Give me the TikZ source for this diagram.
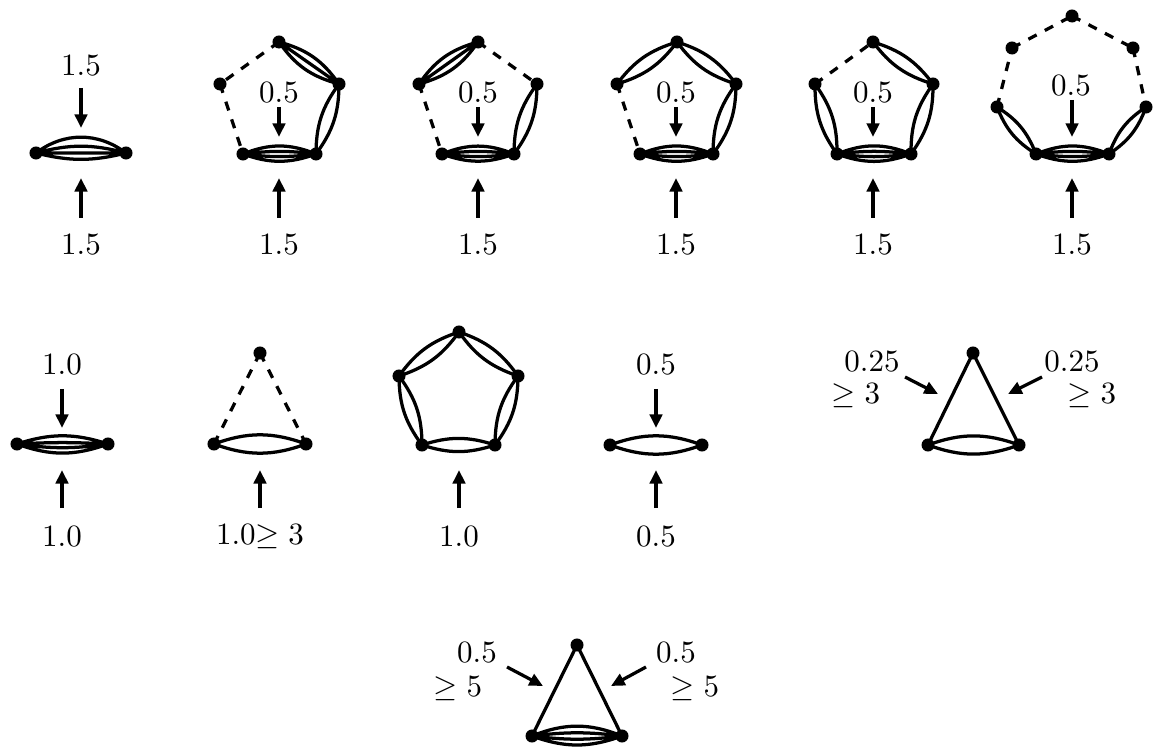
\documentclass[tikz,border=0pt]{standalone}
\usetikzlibrary{arrows.meta}
\newcommand{\mulII}[2]{\draw[edge] (#1.center) to[bend left=18] (#2.center) (#1.center) to[bend right=18] (#2.center);}
\newcommand{\mulIII}[2]{\draw[edge] (#1.center) to[bend left=20] (#2.center) (#1.center) -- (#2.center) (#1.center) to[bend right=20] (#2.center);}
\newcommand{\mulIV}[2]{\draw[edge] (#1.center) to[bend left=22] (#2.center) (#1.center) to[bend left=7] (#2.center) (#1.center) to[bend right=7] (#2.center) (#1.center) to[bend right=20] (#2.center);}
\newcommand{\dsh}[2]{\draw[edge,dashed] (#1.center) -- (#2.center);}
\newcommand{\sgl}[2]{\draw[edge] (#1.center) -- (#2.center);}
\begin{document}
\begin{tikzpicture}[x=0.3226pt,y=-0.3226pt,
  vtx/.style={circle,fill=black,inner sep=0pt,minimum size=4.2pt},
  edge/.style={line width=1.05pt},
  arr/.style={line width=1.05pt,-{Triangle[length=4.4pt,width=4pt]}},
  lbl/.style={inner sep=0pt}]
\useasboundingbox (0,0) rectangle (1155,747);
% ---------- panel 1
\node[vtx] (a1) at (36,153) {};
\node[vtx] (a2) at (126,153) {};
\draw[edge] (a1.center) to[bend left=37] (a2.center) (a1.center) to[bend left=15] (a2.center) (a1.center) -- (a2.center) (a1.center) to[bend right=14] (a2.center);
\node[lbl] (a1t) at (81,66) {$1.5$};
\node[lbl] (a1b) at (81,245) {$1.5$};
\coordinate (a1s) at (81,88); \coordinate (a1e) at (81,128);
\coordinate (a1s2) at (81,218); \coordinate (a1e2) at (81,178);
\draw[arr] (a1s) -- (a1e); \draw[arr] (a1s2) -- (a1e2);
% ---------- panel 2
\node[vtx] (b1) at (279,42) {};
\node[vtx] (b2) at (339,84) {};
\node[vtx] (b3) at (316,154) {};
\node[vtx] (b4) at (243,154) {};
\node[vtx] (b5) at (220,84) {};
\dsh{b1}{b5} \dsh{b5}{b4} \mulIII{b1}{b2} \mulII{b2}{b3} \mulIV{b4}{b3}
\node[lbl] (b0t) at (279,93) {$0.5$};
\coordinate (b0s) at (279,107); \coordinate (b0e) at (279,137);
\draw[arr] (b0s) -- (b0e);
\node[lbl] (b0b) at (279,245) {$1.5$};
\coordinate (b0s2) at (279,218); \coordinate (b0e2) at (279,178);
\draw[arr] (b0s2) -- (b0e2);
% ---------- panel 3
\node[vtx] (c1) at (478,42) {};
\node[vtx] (c2) at (537,84) {};
\node[vtx] (c3) at (514,154) {};
\node[vtx] (c4) at (442,154) {};
\node[vtx] (c5) at (419,84) {};
\mulIII{c5}{c1} \dsh{c1}{c2} \dsh{c5}{c4} \mulII{c2}{c3} \mulIV{c4}{c3}
\node[lbl] (c0t) at (478,93) {$0.5$};
\coordinate (c0s) at (478,107); \coordinate (c0e) at (478,137);
\draw[arr] (c0s) -- (c0e);
\node[lbl] (c0b) at (478,245) {$1.5$};
\coordinate (c0s2) at (478,218); \coordinate (c0e2) at (478,178);
\draw[arr] (c0s2) -- (c0e2);
% ---------- panel 4
\node[vtx] (d1) at (677,42) {};
\node[vtx] (d2) at (736,84) {};
\node[vtx] (d3) at (713,154) {};
\node[vtx] (d4) at (640,154) {};
\node[vtx] (d5) at (617,84) {};
\mulII{d5}{d1} \mulII{d1}{d2} \dsh{d5}{d4} \mulII{d2}{d3} \mulIV{d4}{d3}
\node[lbl] (d0t) at (676,93) {$0.5$};
\coordinate (d0s) at (676,107); \coordinate (d0e) at (676,137);
\draw[arr] (d0s) -- (d0e);
\node[lbl] (d0b) at (676,245) {$1.5$};
\coordinate (d0s2) at (676,218); \coordinate (d0e2) at (676,178);
\draw[arr] (d0s2) -- (d0e2);
% ---------- panel 5
\node[vtx] (e1) at (873,42) {};
\node[vtx] (e2) at (933,84) {};
\node[vtx] (e3) at (911,154) {};
\node[vtx] (e4) at (837,154) {};
\node[vtx] (e5) at (815,84) {};
\dsh{e5}{e1} \mulII{e1}{e2} \mulII{e5}{e4} \mulII{e2}{e3} \mulIV{e4}{e3}
\node[lbl] (e0t) at (873,93) {$0.5$};
\coordinate (e0s) at (873,107); \coordinate (e0e) at (873,137);
\draw[arr] (e0s) -- (e0e);
\node[lbl] (e0b) at (873,245) {$1.5$};
\coordinate (e0s2) at (873,218); \coordinate (e0e2) at (873,178);
\draw[arr] (e0s2) -- (e0e2);
% ---------- panel 6 (heptagon)
\node[vtx] (f1) at (1072,16) {};
\node[vtx] (f2) at (1133,48) {};
\node[vtx] (f3) at (1146,107) {};
\node[vtx] (f4) at (1109,154) {};
\node[vtx] (f5) at (1036,154) {};
\node[vtx] (f6) at (997,107) {};
\node[vtx] (f7) at (1012,48) {};
\dsh{f7}{f1} \dsh{f1}{f2} \dsh{f2}{f3} \dsh{f6}{f7}
\mulII{f3}{f4} \mulII{f6}{f5} \mulIV{f5}{f4}
\node[lbl] (f0t) at (1071,86) {$0.5$};
\coordinate (f0s) at (1072,100); \coordinate (f0e) at (1072,137);
\draw[arr] (f0s) -- (f0e);
\node[lbl] (f0b) at (1072,245) {$1.5$};
\coordinate (f0s2) at (1072,218); \coordinate (f0e2) at (1072,178);
\draw[arr] (f0s2) -- (f0e2);
% ---------- row 2 panel 7
\node[vtx] (g1) at (17,444) {};
\node[vtx] (g2) at (108,444) {};
\draw[edge] (g1.center) to[bend left=18] (g2.center) (g1.center) to[bend left=3] (g2.center) (g1.center) to[bend right=8] (g2.center) (g1.center) to[bend right=20] (g2.center);
\node[lbl] (g0t) at (62,365) {$1.0$};
\coordinate (g0s) at (62,389); \coordinate (g0e) at (62,428);
\draw[arr] (g0s) -- (g0e);
\node[lbl] (g0b) at (62,537) {$1.0$};
\coordinate (g0s2) at (62,508); \coordinate (g0e2) at (62,470);
\draw[arr] (g0s2) -- (g0e2);
% ---------- panel 8
\node[vtx] (h1) at (260,353) {};
\node[vtx] (h2) at (306,444) {};
\node[vtx] (h3) at (214,444) {};
\dsh{h1}{h3} \dsh{h1}{h2}
\draw[edge] (h3.center) to[bend left=20] (h2.center) (h3.center) to[bend right=20] (h2.center);
\node[lbl] (h0b) at (260,537) {$1.0$$\geq 3$};
\coordinate (h0s2) at (260,508); \coordinate (h0e2) at (260,470);
\draw[arr] (h0s2) -- (h0e2);
% ---------- panel 9
\node[vtx] (i1) at (459,332) {};
\node[vtx] (i2) at (518,376) {};
\node[vtx] (i3) at (495,445) {};
\node[vtx] (i4) at (422,445) {};
\node[vtx] (i5) at (399,376) {};
\mulII{i5}{i1} \mulII{i1}{i2} \mulII{i2}{i3} \mulII{i4}{i3} \mulII{i5}{i4}
\node[lbl] (i0b) at (459,537) {$1.0$};
\coordinate (i0s2) at (459,508); \coordinate (i0e2) at (459,470);
\draw[arr] (i0s2) -- (i0e2);
% ---------- panel 10
\node[vtx] (j1) at (610,445) {};
\node[vtx] (j2) at (702,445) {};
\draw[edge] (j1.center) to[bend left=20] (j2.center) (j1.center) to[bend right=20] (j2.center);
\node[lbl] (j0t) at (656,365) {$0.5$};
\coordinate (j0s) at (656,389); \coordinate (j0e) at (656,428);
\draw[arr] (j0s) -- (j0e);
\node[lbl] (j0b) at (656,537) {$0.5$};
\coordinate (j0s2) at (656,508); \coordinate (j0e2) at (656,470);
\draw[arr] (j0s2) -- (j0e2);
% ---------- panel 11
\node[vtx] (k1) at (973,353) {};
\node[vtx] (k2) at (1019,445) {};
\node[vtx] (k3) at (928,445) {};
\sgl{k1}{k3} \sgl{k1}{k2}
\draw[edge] (k3.center) to[bend left=20] (k2.center) (k3.center) to[bend right=20] (k2.center);
\node[lbl] (k0a) at (872,362) {$0.25$};
\node[lbl] (k0b) at (856,396) {$\geq 3$};
\node[lbl] (k0c) at (1072,362) {$0.25$};
\node[lbl] (k0d) at (1092,396) {$\geq 3$};
\coordinate (k0s) at (905,377); \coordinate (k0e) at (938,394);
\coordinate (k0s2) at (1042,377); \coordinate (k0e2) at (1008,394);
\draw[arr] (k0s) -- (k0e); \draw[arr] (k0s2) -- (k0e2);
% ---------- panel 12
\node[vtx] (l1) at (577,645) {};
\node[vtx] (l2) at (622,736) {};
\node[vtx] (l3) at (532,736) {};
\sgl{l1}{l3} \sgl{l1}{l2} \mulIV{l3}{l2}
\node[lbl] (l0a) at (477,653) {$0.5$};
\node[lbl] (l0b) at (458,689) {$\geq 5$};
\node[lbl] (l0c) at (676,653) {$0.5$};
\node[lbl] (l0d) at (695,689) {$\geq 5$};
\coordinate (l0s) at (507,667); \coordinate (l0e) at (543,686);
\coordinate (l0s2) at (646,667); \coordinate (l0e2) at (611,686);
\draw[arr] (l0s) -- (l0e); \draw[arr] (l0s2) -- (l0e2);
\end{tikzpicture}
\end{document}
